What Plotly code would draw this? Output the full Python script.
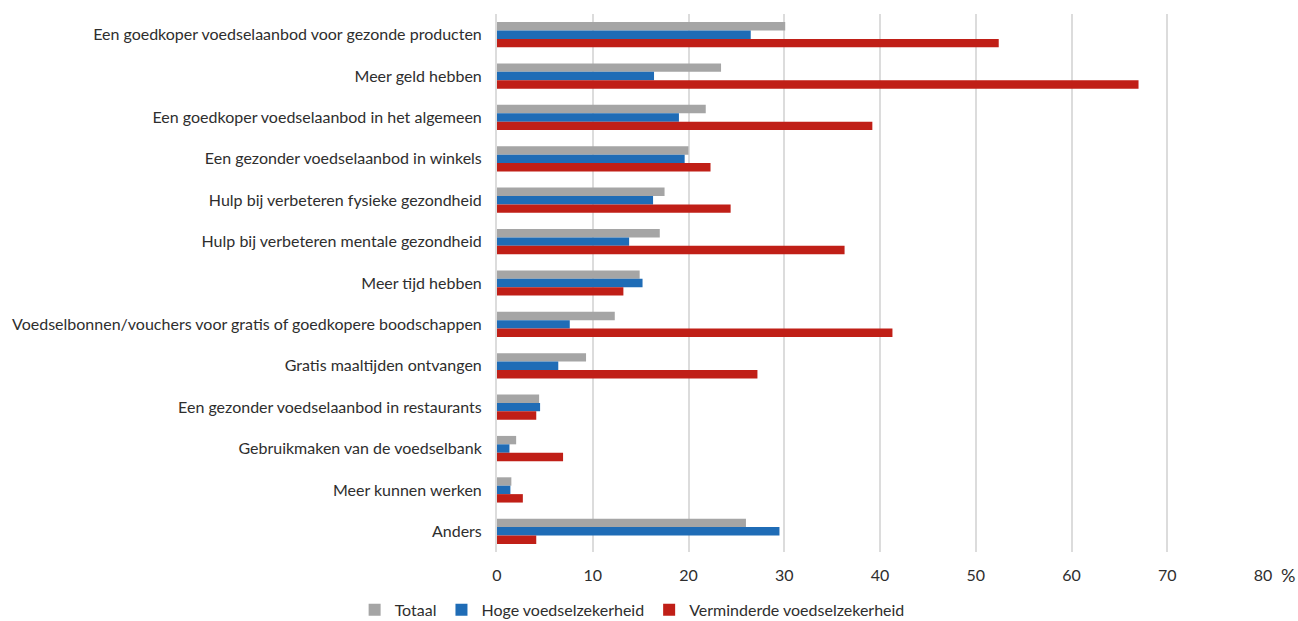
import plotly.graph_objects as go

categories = [
    "Een goedkoper voedselaanbod voor gezonde producten",
    "Meer geld hebben",
    "Een goedkoper voedselaanbod in het algemeen",
    "Een gezonder voedselaanbod in winkels",
    "Hulp bij verbeteren fysieke gezondheid",
    "Hulp bij verbeteren mentale gezondheid",
    "Meer tijd hebben",
    "Voedselbonnen/vouchers voor gratis of goedkopere boodschappen",
    "Gratis maaltijden ontvangen",
    "Een gezonder voedselaanbod in restaurants",
    "Gebruikmaken van de voedselbank",
    "Meer kunnen werken",
    "Anders",
]
totaal = [30.1, 23.4, 21.8, 20.0, 17.5, 17.0, 14.9, 12.3, 9.3, 4.4, 2.0, 1.5, 26.0]
hoge = [26.5, 16.4, 19.0, 19.6, 16.3, 13.8, 15.2, 7.6, 6.4, 4.5, 1.3, 1.4, 29.5]
verminderde = [52.4, 67.0, 39.2, 22.3, 24.4, 36.3, 13.2, 41.3, 27.2, 4.1, 6.9, 2.7, 4.1]
tick_vals = [0, 10, 20, 30, 40, 50, 60, 70, 80]

series = [
    ("Totaal", totaal, "#a5a5a5"),
    ("Hoge voedselzekerheid", hoge, "#1f6cb6"),
    ("Verminderde voedselzekerheid", verminderde, "#c01f17"),
]

fig = go.Figure()
for name, vals, col in series:
    fig.add_trace(go.Bar(
        y=categories, x=vals, name=name, orientation="h",
        marker=dict(color=col, line=dict(width=0)),
    ))

font_family = "Lato, 'Open Sans', sans-serif"
txt = "#2e2e2e"
fig.update_layout(
    width=1298, height=621,
    margin=dict(l=497, r=35, t=14, b=69, autoexpand=False),
    paper_bgcolor="white", plot_bgcolor="white",
    barmode="group", bargap=0.39, bargroupgap=0.0,
    font=dict(family=font_family, size=16, color=txt),
    xaxis=dict(
        range=[0, 80], tickvals=tick_vals, showgrid=True,
        gridcolor="#dcdcdc", gridwidth=2, zeroline=False,
        showline=False, ticks="", automargin=False,
        ticklabelstandoff=12,
        tickfont=dict(size=16, color=txt),
    ),
    yaxis=dict(
        autorange="reversed", showgrid=False, ticks="", automargin=False,
        showline=True, linecolor="#dcdcdc", linewidth=2,
        ticklabelstandoff=10,
        tickfont=dict(size=16, color=txt),
    ),
    legend=dict(
        orientation="h", x=0.487, xanchor="center", y=0.018, yanchor="middle",
        xref="container", yref="container",
        font=dict(size=16, color=txt), traceorder="normal",
    ),
    showlegend=True,
)
fig.add_annotation(
    text="%", x=1.0, xref="paper", xanchor="left", xshift=16,
    y=0, yref="paper", yanchor="middle", yshift=-23, showarrow=False,
    font=dict(size=18, color=txt),
)

fig.write_html("out.html")
